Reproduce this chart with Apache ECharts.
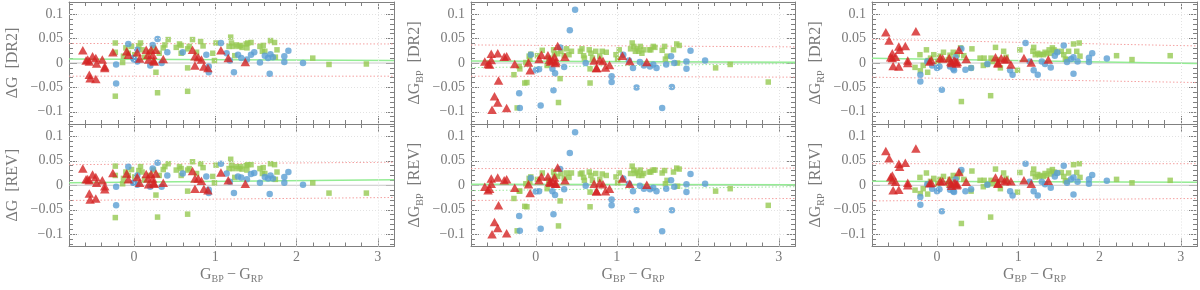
<!DOCTYPE html>
<html><head><meta charset="utf-8">
<script src="https://cdn.jsdelivr.net/npm/echarts@6/dist/echarts.min.js"></script>
<style>html,body{margin:0;padding:0;background:#fff}#c{width:1200px;height:290px}</style>
</head><body><div id="c"></div>
<script>
// ---------- axis / tick values ----------
const X_MIN = -0.8, X_MAX = 3.2, Y_MIN = -0.125, Y_MAX = 0.125;
const xMajorTicks = [0, 1, 2, 3];
const yMajorTicks = [-0.1, -0.05, 0, 0.05, 0.1];
const xMinorTicks = [-0.6,-0.4,-0.2,0.2,0.4,0.6,0.8,1.2,1.4,1.6,1.8,2.2,2.4,2.6,2.8,3.2];
const yMinorTicks = [-0.12,-0.11,-0.09,-0.08,-0.07,-0.06,-0.04,-0.03,-0.02,-0.01,0.01,0.02,0.03,0.04,0.06,0.07,0.08,0.09,0.11,0.12];
const yGridValues = [-0.1, -0.05, 0.05, 0.1];

// ---------- red triangles (same colours in every panel) ----------
const redX = [-0.63,-0.59,-0.57,-0.55,-0.55,-0.54,-0.51,-0.47,-0.47,-0.46,-0.39,-0.36,-0.36,-0.26,-0.09,-0.07,0.04,0.07,0.15,0.17,0.18,0.21,0.23,0.24,0.27,0.25,0.36,0.72,0.75,0.75,0.79,0.83,0.86,0.91,1.07,1.16,1.37];
const gDR2Red = [0.026,0.005,0.007,0.003,-0.024,-0.031,0.014,0.010,-0.033,-0.001,0.007,-0.007,-0.010,0.022,0.024,0.017,0.022,0.009,0.027,0.017,0.007,0.027,0.017,0.005,0.027,0.003,0.008,0.027,0.014,-0.005,0.012,0.007,-0.007,-0.010,0.026,0.010,0.002];
const gREVRed = [0.034,0.012,0.013,0.010,-0.017,-0.029,0.022,0.017,-0.027,0.005,0.010,-0.002,-0.008,0.025,0.024,0.012,0.017,0.005,0.023,0.014,0.002,0.023,0.014,0.005,0.024,0.003,0.005,0.029,0.014,-0.007,0.014,0.009,-0.007,-0.010,0.026,0.010,0.003];
const bpDR2Red = [0.003,-0.002,-0.003,0.006,0.019,-0.096,-0.068,0.020,-0.081,-0.036,0.013,0.014,-0.092,-0.002,0.001,-0.015,0.008,0.017,0.016,0.007,0.003,0.005,0.013,0.000,0.035,0.003,0.013,0.005,-0.010,-0.010,0.007,0.004,-0.009,-0.004,0.015,0.004,0.002];
const bpREVRed = [-0.003,-0.010,-0.007,0.003,0.014,-0.100,-0.075,0.016,-0.087,-0.041,0.010,0.012,-0.098,-0.005,0.002,-0.016,0.010,0.018,0.018,0.007,0.005,0.007,0.016,0.003,0.036,0.003,0.010,0.003,-0.012,-0.012,0.005,0.002,-0.012,-0.007,0.014,0.003,0.001];
const rpDR2Red = [0.063,0.046,0.012,0.010,0.020,-0.006,0.013,0.034,-0.007,0.027,0.035,0.005,0.000,0.065,0.003,0.006,0.010,0.009,0.010,0.003,0.000,0.005,0.003,-0.001,0.027,0.002,0.008,0.012,-0.001,0.001,0.010,0.007,0.008,-0.003,0.010,0.001,0.007];
const rpREVRed = [0.070,0.055,0.017,0.010,0.020,-0.010,0.007,0.044,-0.009,0.038,0.046,0.005,0.000,0.075,0.004,0.005,0.008,0.008,0.010,0.003,-0.001,0.005,0.004,0.000,0.027,0.002,0.007,0.016,0.003,0.004,0.014,0.008,0.010,0.008,0.010,0.003,0.009];

// ---------- blue circles ----------
const gBlueX = [-0.22,-0.22,-0.07,-0.01,0.00,0.04,0.04,0.20,0.23,0.29,0.34,0.41,0.60,0.89,0.92,0.92,1.07,1.14,1.18,1.23,1.28,1.32,1.39,1.44,1.48,1.55,1.61,1.65,1.68,1.67,1.71,1.85,1.85,1.90,2.08];
const gDR2Blue = [-0.003,-0.042,0.039,0.010,0.007,0.003,0.027,-0.005,0.037,0.049,0.000,0.022,0.022,0.017,-0.007,-0.019,0.041,0.020,0.005,-0.019,0.017,0.010,0.007,0.017,0.022,0.001,0.015,0.010,0.018,-0.022,0.012,0.002,0.014,0.025,0.000];
const gREVBlue = [-0.003,-0.041,0.038,0.005,0.005,0.001,0.020,-0.003,0.034,0.046,-0.003,0.020,0.024,0.018,-0.009,-0.016,0.044,0.024,0.007,-0.016,0.018,0.016,0.012,0.023,0.025,0.005,0.017,0.014,0.020,-0.018,0.014,0.005,0.017,0.027,0.001];
const bpBlueX = [-0.205,-0.197,-0.062,0.00,0.04,0.06,0.205,0.218,0.238,0.30,0.35,0.42,0.485,0.616,0.936,0.936,1.08,1.15,1.20,1.244,1.285,1.335,1.41,1.45,1.49,1.56,1.61,1.67,1.68,1.71,1.86,1.86,1.91,2.09];
const bpDR2Blue = [-0.062,-0.092,0.017,-0.015,-0.013,-0.087,-0.012,-0.056,-0.021,0.032,-0.008,0.067,0.109,0.000,-0.027,-0.039,0.017,0.005,-0.010,-0.050,0.002,-0.005,-0.007,-0.003,-0.010,-0.092,-0.003,0.014,-0.049,0.000,0.003,-0.012,0.025,0.005];
const bpREVBlue = [-0.063,-0.093,0.015,-0.013,-0.012,-0.089,-0.012,-0.059,-0.020,0.033,-0.008,0.066,0.108,-0.001,-0.029,-0.041,0.014,0.003,-0.012,-0.051,-0.001,-0.007,-0.008,-0.005,-0.012,-0.094,-0.007,0.010,-0.051,-0.003,0.002,-0.014,0.023,0.003];
const rpBlueX = [-0.205,-0.205,-0.12,-0.06,0.00,0.03,0.06,0.16,0.20,0.21,0.23,0.30,0.35,0.42,0.62,0.90,0.93,1.09,1.14,1.19,1.24,1.29,1.33,1.40,1.45,1.48,1.56,1.60,1.65,1.68,1.68,1.73,1.87,1.87,1.91,2.09];
const rpDR2Blue = [-0.024,-0.038,0.003,-0.005,-0.010,-0.007,-0.055,-0.007,-0.012,-0.015,0.012,0.029,-0.014,-0.010,-0.002,-0.015,-0.024,0.041,0.003,-0.015,-0.024,0.003,-0.002,-0.009,0.015,0.022,0.036,0.002,0.008,0.012,-0.022,0.003,0.002,0.011,0.020,0.009];
const rpREVBlue = [-0.024,-0.040,0.002,-0.007,-0.012,-0.008,-0.053,-0.009,-0.012,-0.014,0.012,0.031,-0.012,-0.008,0.001,-0.012,-0.021,0.044,0.007,-0.012,-0.021,0.007,0.002,-0.005,0.018,0.025,0.040,0.005,0.012,0.016,-0.019,0.007,0.003,0.012,0.021,0.009];

// ---------- green squares ----------
const gGreenX = [-0.23,-0.23,-0.23,-0.14,-0.13,-0.10,-0.07,-0.03,0.01,0.06,0.08,0.10,0.13,0.19,0.24,0.27,0.29,0.31,0.36,0.38,0.42,0.52,0.56,0.58,0.58,0.66,0.66,0.66,0.68,0.72,0.77,0.82,0.85,0.97,0.99,1.01,1.17,1.19,1.20,1.22,1.24,1.26,1.29,1.31,1.33,1.38,1.40,1.39,1.44,1.55,1.58,1.59,1.61,1.68,1.73,1.74,1.76,2.20,2.40,2.86];
const gDR2Green = [0.041,0.022,-0.068,0.001,0.014,0.031,0.020,0.034,0.017,0.035,0.041,0.027,0.012,0.022,0.031,-0.019,-0.061,0.020,0.031,0.037,0.048,0.032,0.039,0.020,0.036,-0.010,-0.058,0.029,0.034,0.048,0.022,0.044,0.035,0.020,0.005,0.041,0.034,0.053,0.041,0.034,0.015,0.037,0.034,0.036,0.032,0.039,0.041,0.031,0.042,0.034,0.024,0.036,0.024,0.046,0.042,0.012,0.027,0.010,-0.003,-0.002];
const gREVGreen = [0.039,0.020,-0.066,0.003,0.014,0.027,0.020,0.032,0.017,0.030,0.038,0.027,0.012,0.020,0.031,-0.020,-0.065,0.020,0.032,0.038,0.044,0.031,0.038,0.020,0.034,-0.012,-0.059,0.031,0.034,0.048,0.024,0.044,0.036,0.018,0.005,0.041,0.034,0.053,0.041,0.034,0.016,0.038,0.034,0.038,0.033,0.040,0.042,0.031,0.042,0.034,0.024,0.036,0.024,0.044,0.042,0.012,0.027,0.005,-0.016,-0.016];
const bpGreenX = [-0.27,-0.23,-0.205,-0.197,-0.136,-0.11,-0.123,-0.082,-0.074,-0.062,0.02,0.08,0.14,0.16,0.22,0.23,0.27,0.28,0.30,0.31,0.35,0.38,0.41,0.44,0.55,0.57,0.59,0.60,0.66,0.67,0.67,0.68,0.70,0.74,0.79,0.82,0.87,0.99,1.01,1.03,1.17,1.19,1.21,1.23,1.25,1.27,1.29,1.31,1.33,1.40,1.42,1.45,1.47,1.56,1.59,1.60,1.62,1.70,1.74,1.77,1.75,2.22,2.40,2.87];
const bpDR2Green = [-0.024,-0.092,-0.007,-0.012,-0.041,-0.040,0.001,0.014,0.008,0.018,0.015,0.026,-0.005,0.010,0.027,0.017,0.019,-0.081,-0.032,0.024,0.015,0.029,0.017,0.024,0.024,0.029,0.015,0.010,0.027,-0.012,-0.041,0.020,0.010,0.024,0.014,0.024,0.022,0.017,0.008,0.027,0.029,0.041,0.034,0.024,0.029,0.024,0.034,0.020,0.027,0.027,0.027,0.034,0.032,0.026,0.034,0.008,0.014,0.027,0.039,0.036,0.000,-0.010,-0.003,-0.039];
const bpREVGreen = [-0.027,-0.093,-0.012,-0.012,-0.043,-0.044,0.003,0.014,0.007,0.017,0.012,0.025,-0.007,0.010,0.027,0.018,0.018,-0.083,-0.032,0.024,0.014,0.025,0.016,0.025,0.023,0.025,0.016,0.010,0.027,-0.014,-0.044,0.020,0.010,0.024,0.012,0.023,0.020,0.017,0.005,0.025,0.024,0.039,0.031,0.024,0.027,0.020,0.031,0.020,0.024,0.027,0.027,0.031,0.031,0.025,0.030,0.003,0.010,0.027,0.035,0.033,-0.002,-0.012,-0.007,-0.041];
const rpGreenX = [-0.27,-0.21,-0.205,-0.17,-0.13,-0.115,-0.11,-0.08,-0.04,0.01,0.03,0.08,0.14,0.16,0.20,0.25,0.29,0.30,0.33,0.42,0.43,0.53,0.57,0.58,0.62,0.66,0.665,0.68,0.72,0.74,0.78,0.82,0.85,0.99,1.02,1.18,1.19,1.21,1.24,1.26,1.28,1.31,1.33,1.35,1.38,1.40,1.42,1.44,1.46,1.53,1.56,1.58,1.60,1.62,1.68,1.72,1.75,1.76,2.21,2.40,2.87];
const rpDR2Green = [-0.009,0.017,-0.016,-0.005,0.027,-0.019,0.005,0.010,0.017,0.003,0.014,0.022,0.007,0.016,0.022,0.017,0.031,-0.079,0.015,-0.010,0.029,0.010,-0.005,0.010,-0.003,-0.067,0.010,0.003,0.032,0.007,-0.010,0.024,0.012,-0.015,0.027,0.024,0.032,0.017,0.020,0.017,0.018,0.017,0.022,0.019,0.027,0.020,0.031,0.027,0.024,0.024,0.017,0.008,0.007,0.024,0.039,0.024,0.041,0.014,0.015,0.007,0.015];
const rpREVGreen = [-0.010,0.016,-0.017,-0.007,0.025,-0.018,0.003,0.008,0.014,0.003,0.012,0.018,0.003,0.012,0.020,0.017,0.027,-0.078,0.012,-0.012,0.029,0.010,-0.003,0.010,0.001,-0.065,0.010,0.003,0.033,0.007,-0.007,0.025,0.014,-0.014,0.026,0.024,0.033,0.017,0.022,0.018,0.020,0.018,0.024,0.020,0.029,0.023,0.032,0.027,0.025,0.026,0.018,0.009,0.008,0.025,0.042,0.026,0.044,0.016,0.012,0.005,0.010];

// ---------- reference lines: [value at X_MIN, value at X_MAX] ----------
const gDR2Fit = [0.008, 0.005],  gDR2Up = [0.040, 0.039],  gDR2Lo = [-0.027, -0.027];
const gREVFit = [0.005, 0.011],  gREVUp = [0.042, 0.047],  gREVLo = [-0.031, -0.025];
const bpDR2Fit = [0.004, 0.0015], bpDR2Up = [0.037, 0.033], bpDR2Lo = [-0.027, -0.029], bpDR2Dot = [-0.0095, -0.001];
const bpREVFit = [0.002, 0.001],  bpREVUp = [0.034, 0.035], bpREVLo = [-0.031, -0.027], bpREVDot = [-0.011, -0.003];
const rpDR2Fit = [0.0095, -0.001], rpDR2Up = [0.0485, 0.035], rpDR2Lo = [-0.029, -0.040];
const rpREVFit = [0.008, 0.006],  rpREVUp = [0.044, 0.044], rpREVLo = [-0.032, -0.027];

// ---------- panels ----------
const panels = [
  {col:0,row:0,sub:'',  tag:'[DR2]',redY:gDR2Red, bx:gBlueX, by:gDR2Blue, gx:gGreenX, gy:gDR2Green, fit:gDR2Fit, up:gDR2Up, lo:gDR2Lo, dot:null},
  {col:0,row:1,sub:'',  tag:'[REV]',redY:gREVRed, bx:gBlueX, by:gREVBlue, gx:gGreenX, gy:gREVGreen, fit:gREVFit, up:gREVUp, lo:gREVLo, dot:null},
  {col:1,row:0,sub:'BP',tag:'[DR2]',redY:bpDR2Red,bx:bpBlueX,by:bpDR2Blue,gx:bpGreenX,gy:bpDR2Green,fit:bpDR2Fit,up:bpDR2Up,lo:bpDR2Lo,dot:bpDR2Dot},
  {col:1,row:1,sub:'BP',tag:'[REV]',redY:bpREVRed,bx:bpBlueX,by:bpREVBlue,gx:bpGreenX,gy:bpREVGreen,fit:bpREVFit,up:bpREVUp,lo:bpREVLo,dot:bpREVDot},
  {col:2,row:0,sub:'RP',tag:'[DR2]',redY:rpDR2Red,bx:rpBlueX,by:rpDR2Blue,gx:rpGreenX,gy:rpDR2Green,fit:rpDR2Fit,up:rpDR2Up,lo:rpDR2Lo,dot:null},
  {col:2,row:1,sub:'RP',tag:'[REV]',redY:rpREVRed,bx:rpBlueX,by:rpREVBlue,gx:rpGreenX,gy:rpREVGreen,fit:rpREVFit,up:rpREVUp,lo:rpREVLo,dot:null}
];

const FONT = 'Liberation Serif';
const TXT = '#7a7a7a';
const AX = '#808080';
const RED = '#d42424', BLUE = '#5b9fd3', GREEN = '#96c952';
const cols = [{left:69,width:325},{left:471,width:324},{left:872,width:325}];
const rows = [{top:2,height:122},{top:124,height:122.5}];

const rich = {
  a: {fontFamily: FONT, fontSize: 16, color: TXT, lineHeight: 20},
  s: {fontFamily: FONT, fontSize: 10, color: TXT, verticalAlign: 'bottom'}
};
const fmt = v => (v < 0 ? '\u2212' : '') + String(Math.abs(v));
const zip = (xs, ys) => { const n = Math.min(xs.length, ys.length); const o = []; for (let k = 0; k < n; k++) o.push([xs[k], ys[k]]); return o; };

const grids = [], xAxes = [], yAxes = [], series = [];
panels.forEach((p, i) => {
  const c = cols[p.col], r = rows[p.row];
  grids.push({left: c.left, top: r.top, width: c.width, height: r.height});
  const tick = (vals, len) => ({show: true, inside: true, length: len, customValues: vals, lineStyle: {color: AX, width: 1}});
  const line = {show: true, onZero: false, lineStyle: {color: AX, width: 1}};
  const noLine = {show: false, onZero: false};
  const xb = {type: 'value', gridIndex: i, min: X_MIN, max: X_MAX, splitLine: {show: false}, axisLabel: {show: false}};
  const yb = {type: 'value', gridIndex: i, min: Y_MIN, max: Y_MAX, splitLine: {show: false}, axisLabel: {show: false}};
  const xi = xAxes.length, yi = yAxes.length;
  xAxes.push(Object.assign({}, xb, {position: 'bottom', axisLine: line, axisTick: tick(xMajorTicks, 8),
    axisLabel: p.row === 1 ? {show: true, customValues: xMajorTicks, margin: 4, fontFamily: FONT, fontSize: 14, color: TXT} : {show: false},
    name: p.row === 1 ? '{a|G}{s|BP}{a|\u2009\u2212\u2009G}{s|RP}' : '', nameLocation: 'middle', nameGap: 18,
    nameTextStyle: {rich: rich}}));
  xAxes.push(Object.assign({}, xb, {position: 'bottom', axisLine: noLine, axisTick: tick(xMinorTicks, 4)}));
  xAxes.push(Object.assign({}, xb, {position: 'top', axisLine: line, axisTick: tick(xMajorTicks, 8)}));
  xAxes.push(Object.assign({}, xb, {position: 'top', axisLine: noLine, axisTick: tick(xMinorTicks, 4)}));
  const yname = p.sub ? '{a|\u0394G}{s|' + p.sub + '}{a|  ' + p.tag + '}' : '{a|\u0394G  ' + p.tag + '}';
  yAxes.push(Object.assign({}, yb, {position: 'left', axisLine: line, axisTick: tick(yMajorTicks, 8),
    axisLabel: {show: true, customValues: yMajorTicks, formatter: fmt, margin: 6, fontFamily: FONT, fontSize: 14, color: TXT},
    name: yname, nameLocation: 'middle', nameGap: 46, nameRotate: 90, nameTextStyle: {rich: rich}}));
  yAxes.push(Object.assign({}, yb, {position: 'left', axisLine: noLine, axisTick: tick(yMinorTicks, 4)}));
  yAxes.push(Object.assign({}, yb, {position: 'right', axisLine: line, axisTick: tick(yMajorTicks, 8)}));
  yAxes.push(Object.assign({}, yb, {position: 'right', axisLine: noLine, axisTick: tick(yMinorTicks, 4)}));

  const ax = {xAxisIndex: xi, yAxisIndex: yi};
  const ref = (vals, color, type, width, z) => Object.assign({type: 'line', data: [[X_MIN, vals[0]], [X_MAX, vals[1]]], symbol: 'none', silent: true,
    lineStyle: {color: color, type: type, width: width}, z: z}, ax);
  const zero = ref([0, 0], '#c8c8c8', 'solid', 1, 1);
  zero.markLine = {silent: true, symbol: ['none', 'none'], label: {show: false}, animation: false,
    lineStyle: {color: '#e2e2e2', type: [1, 2], width: 1},
    data: xMajorTicks.map(v => ({xAxis: v})).concat(yGridValues.map(v => ({yAxis: v})))};
  series.push(zero);
  series.push(ref(p.up, '#f4a0a0', [1.5, 2], 1, 2));
  series.push(ref(p.lo, '#f4a0a0', [1.5, 2], 1, 2));
  if (p.dot) series.push(ref(p.dot, '#9be89b', [1.5, 2], 1, 2));
  series.push(ref(p.fit, '#94ec94', 'solid', 1.5, 2));
  series.push(Object.assign({type: 'scatter', data: zip(p.gx, p.gy), symbol: 'rect', symbolSize: 5.5, itemStyle: {color: GREEN}, z: 3, silent: true}, ax));
  series.push(Object.assign({type: 'scatter', data: zip(p.bx, p.by), symbol: 'circle', symbolSize: 6.5, itemStyle: {color: BLUE}, z: 4, silent: true}, ax));
  series.push(Object.assign({type: 'scatter', data: zip(redX, p.redY), symbol: 'triangle', symbolSize: [9.5, 8.5], itemStyle: {color: RED}, z: 5, silent: true}, ax));
});

const chart = echarts.init(document.getElementById('c'));
chart.setOption({
  animation: false,
  textStyle: {fontFamily: FONT},
  grid: grids, xAxis: xAxes, yAxis: yAxes, series: series
});
</script></body></html>
